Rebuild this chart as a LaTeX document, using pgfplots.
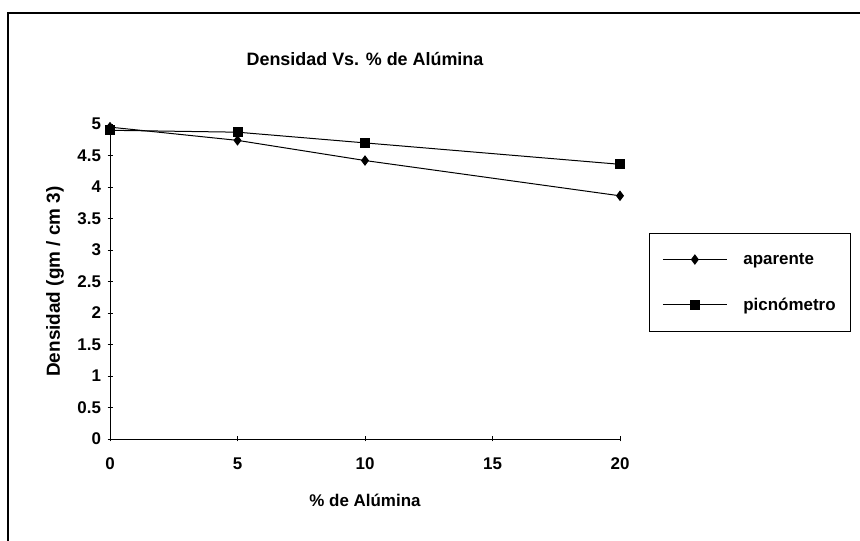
\documentclass[border=0pt]{standalone}
\usepackage{pgfplots}
\pgfplotsset{compat=1.18}
\usepackage{fontspec}
\setmainfont{Liberation Sans}
\newcommand{\cf}{\bfseries\fontsize{17}{19}\selectfont}
\begin{document}
\begin{tikzpicture}[x=1bp,y=1bp]
\path[use as bounding box] (0,0) rectangle (860,541);
\draw[line width=1.8bp] (8,0) -- (8,528) -- (860,528);
\begin{axis}[
  at={(110bp,102bp)}, anchor=south west,
  scale only axis, width=510bp, height=315bp,
  xmin=0, xmax=20, ymin=0, ymax=5,
  axis x line=bottom, axis y line=left,
  axis line style={-, line width=0.7bp, black},
  xtick={0,5,10,15,20},
  ytick={0,0.5,1,1.5,2,2.5,3,3.5,4,4.5,5},
  yticklabels={0,0.5,1,1.5,2,2.5,3,3.5,4,4.5,5},
  xticklabels={0,5,10,15,20},
  tick align=center, major tick length=5bp,
  tick style={black, line width=0.6bp},
  /pgf/number format/assume math mode=true,
  tick label style={font=\cf},
  xticklabel style={yshift=-13bp},
  yticklabel style={xshift=-3bp},
  xlabel={\% de Alúmina},
  ylabel={Densidad (gm / cm 3)},
  title={Densidad Vs. \% de Alúmina},
  label style={font=\cf},
  title style={font=\bfseries\fontsize{18}{20}\selectfont, at={(axis description cs:0.5,1.187)}, anchor=center},
  xlabel style={at={(axis description cs:0.5,-0.194)}, anchor=center},
  ylabel style={font=\bfseries\fontsize{19}{21}\selectfont, at={(axis description cs:-0.108,0.5)}, anchor=center},
  legend style={at={(1.057,0.654)}, anchor=north west, draw=black, line width=0.6bp,
    font=\cf, inner xsep=13bp, inner ysep=18bp, row sep=28bp,
    cells={anchor=west}},
  legend image code/.code={
    \draw[mark repeat=2,mark phase=2] plot coordinates {(0bp,0bp) (32bp,0bp) (64bp,0bp)};
    \path (78bp,0bp);
  },
]
\addplot[black, line width=1bp, mark=diamond*, mark size=4.5bp, mark options={solid}]
  coordinates {(0,4.95) (5,4.74) (10,4.42) (20,3.86)};
\addlegendentry{aparente}
\addplot[black, line width=1bp, mark=square*, mark size=4.5bp, mark options={solid}]
  coordinates {(0,4.9) (5,4.87) (10,4.70) (20,4.36)};
\addlegendentry{picnómetro}
\end{axis}
\end{tikzpicture}
\end{document}
